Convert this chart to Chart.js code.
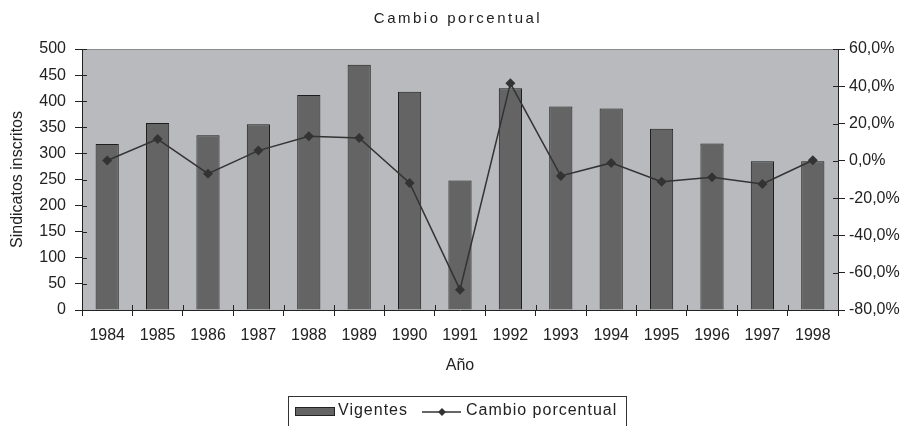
<!DOCTYPE html>
<html lang="es">
<head>
    <meta charset="UTF-8">
    <title>Cambio porcentual</title>
    <script src="https://cdn.jsdelivr.net/npm/chart.js"></script>
    <style>
        body {
            margin: 0;
            background-color: #ffffff;
        }
        .wrap {
            position: relative;
            width: 912px;
            height: 426px;
            overflow: hidden;
            font-family: "Liberation Sans", Arial, sans-serif;
            color: #222;
        }
        .chart-title {
            position: absolute;
            top: 9px;
            left: 2px;
            width: 912px;
            text-align: center;
            font-size: 15px;
            letter-spacing: 2.5px;
        }
        .legend {
            position: absolute;
            left: 288px;
            top: 396px;
            width: 339px;
            height: 40px;
            border: 1px solid #333;
            box-sizing: border-box;
            font-size: 16px;
        }
        .legend .swatch {
            position: absolute;
            left: 6px;
            top: 10px;
            width: 40px;
            height: 9px;
            background: #646464;
            border: 1px solid #222;
            box-sizing: border-box;
        }
        .legend .txt {
            position: absolute;
            top: 4px;
            line-height: 18px;
            letter-spacing: 1px;
        }
        .legend svg {
            position: absolute;
            left: 133px;
            top: 9px;
        }
    </style>
</head>
<body>

    <div class="wrap">
        <canvas id="myChart" width="912" height="426"></canvas>
        <div class="chart-title">Cambio porcentual</div>
        <div class="legend">
            <div class="swatch"></div>
            <span class="txt" style="left:49px">Vigentes</span>
            <svg width="40" height="12">
                <line x1="0" y1="6" x2="39" y2="6" stroke="#333" stroke-width="1.5"/>
                <polygon points="20,2 24,6 20,10 16,6" fill="#333"/>
            </svg>
            <span class="txt" style="left:177px">Cambio porcentual</span>
        </div>
    </div>

    <script>
        // Values
        const years = ['1984', '1985', '1986', '1987', '1988', '1989', '1990', '1991',
                       '1992', '1993', '1994', '1995', '1996', '1997', '1998'];
        const vigentes = [318, 358, 335, 356, 412, 470, 418, 248, 425, 390, 386, 347, 319, 285, 285];
        const cambioPct = [0.2, 11.7, -6.9, 5.5, 13.2, 12.3, -11.9, -69.1, 41.6, -8.1, -1.1, -11.2, -8.8, -12.4, 0.3];

        const leftTicks = { min: 0, max: 500, step: 50 };
        const rightTicks = { min: -80, max: 60, step: 20 };

        const FONT = { family: '"Liberation Sans", Arial, sans-serif', size: 16 };

        // gray plot background + top border line
        const plotBg = {
            id: 'plotBg',
            beforeDraw(chart) {
                const { ctx, chartArea: a } = chart;
                ctx.save();
                ctx.fillStyle = '#b9babd';
                ctx.fillRect(a.left, a.top, a.right - a.left, a.bottom - a.top);
                ctx.strokeStyle = '#8c8c8c';
                ctx.lineWidth = 1;
                ctx.beginPath();
                ctx.moveTo(a.left, a.top + 0.5);
                ctx.lineTo(a.right, a.top + 0.5);
                ctx.stroke();
                ctx.restore();
            }
        };

        // small tick marks that cross into the plot area, like the original
        const innerTicks = {
            id: 'innerTicks',
            afterDatasetsDraw(chart) {
                const { ctx, chartArea: a, scales } = chart;
                ctx.save();
                ctx.strokeStyle = '#222';
                ctx.lineWidth = 1;
                ctx.beginPath();
                scales.y.ticks.forEach((t, i) => {
                    const py = Math.round(scales.y.getPixelForTick(i)) + 0.5;
                    ctx.moveTo(a.left, py);
                    ctx.lineTo(a.left + 5, py);
                });
                scales.y1.ticks.forEach((t, i) => {
                    const py = Math.round(scales.y1.getPixelForTick(i)) + 0.5;
                    ctx.moveTo(a.right, py);
                    ctx.lineTo(a.right - 5, py);
                });
                const w = (a.right - a.left) / years.length;
                for (let i = 1; i < years.length; i++) {
                    const px = Math.round(a.left + i * w) + 0.5;
                    ctx.moveTo(px, a.bottom);
                    ctx.lineTo(px, a.bottom - 5);
                }
                ctx.stroke();
                ctx.restore();
            }
        };

        const fmtPct = v => v.toFixed(1).replace('.', ',') + '%';

        const ctx = document.getElementById('myChart').getContext('2d');
        new Chart(ctx, {
            type: 'bar',
            data: {
                labels: years,
                datasets: [{
                    type: 'line',
                    label: 'Cambio porcentual',
                    data: cambioPct,
                    yAxisID: 'y1',
                    borderColor: '#333',
                    backgroundColor: '#333',
                    borderWidth: 1.5,
                    pointStyle: 'rectRot',
                    pointRadius: 5,
                    pointBackgroundColor: '#333',
                    pointBorderWidth: 0,
                    tension: 0,
                    order: 0
                }, {
                    label: 'Vigentes',
                    data: vigentes,
                    yAxisID: 'y',
                    backgroundColor: '#646464',
                    borderColor: '#1e1e1e',
                    borderWidth: 1,
                    barPercentage: 0.46,
                    categoryPercentage: 1.0,
                    order: 1
                }]
            },
            options: {
                responsive: false,
                animation: false,
                layout: { padding: { top: 49, left: 0, right: 0, bottom: 0 } },
                plugins: {
                    legend: { display: false },
                    title: { display: false },
                    tooltip: { enabled: false }
                },
                scales: {
                    x: {
                        offset: true,
                        afterFit: s => { s.height = 116; },
                        grid: { drawOnChartArea: false, offset: true, color: '#222', tickLength: 6 },
                        border: { color: '#222' },
                        ticks: { color: '#222', font: FONT, padding: 10, maxRotation: 0 },
                        title: { display: true, text: 'Año', color: '#222', font: FONT, padding: { top: 0, bottom: 51 } }
                    },
                    y: {
                        position: 'left',
                        min: leftTicks.min,
                        max: leftTicks.max,
                        afterFit: s => { s.width = 82; },
                        grid: { drawOnChartArea: false, color: '#222', tickLength: 7 },
                        border: { color: '#222' },
                        ticks: { stepSize: leftTicks.step, color: '#222', font: FONT, padding: 9 },
                        title: { display: true, text: 'Sindicatos inscritos', color: '#222', font: FONT, padding: { top: 8, bottom: 0 } }
                    },
                    y1: {
                        position: 'right',
                        min: rightTicks.min,
                        max: rightTicks.max,
                        afterFit: s => { s.width = 74; },
                        grid: { drawOnChartArea: false, color: '#222', tickLength: 7 },
                        border: { color: '#222' },
                        ticks: { stepSize: rightTicks.step, color: '#222', font: FONT, padding: 4, callback: fmtPct }
                    }
                }
            },
            plugins: [plotBg, innerTicks]
        });
    </script>
</body>
</html>
